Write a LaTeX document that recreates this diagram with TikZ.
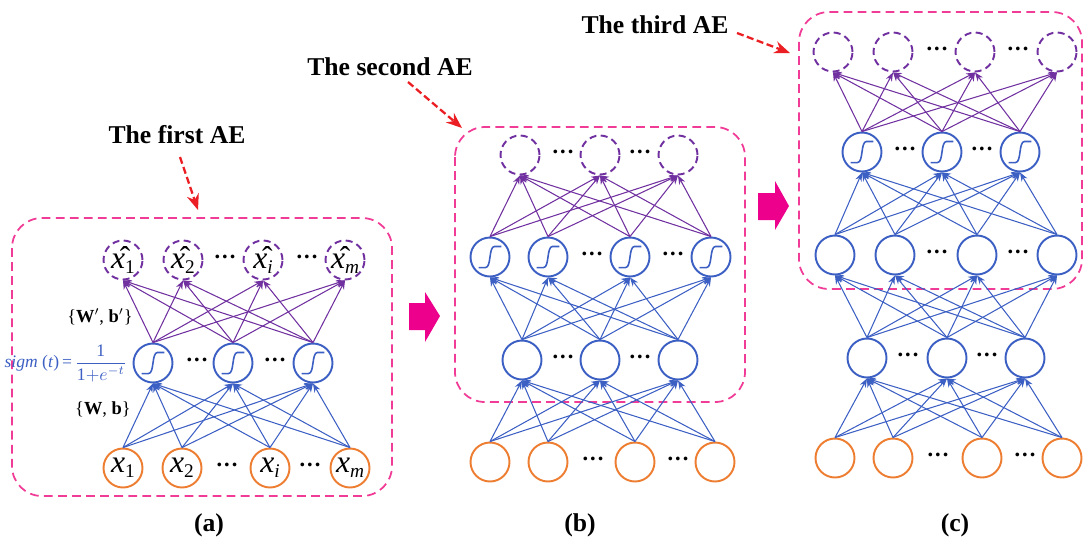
\documentclass[tikz,border=0pt]{standalone}
\usepackage{fontspec}
\setmainfont{Liberation Serif}
\usetikzlibrary{arrows.meta}
\definecolor{aeblue}{RGB}{60,95,195}
\definecolor{aepurple}{RGB}{112,48,160}
\definecolor{aeorange}{RGB}{237,125,49}
\definecolor{aepink}{RGB}{240,60,150}
\definecolor{aered}{RGB}{235,30,35}
\definecolor{aemagenta}{RGB}{236,0,140}
\newcommand{\aesub}[1]{\raisebox{-0.35ex}{\fontsize{11}{11}\selectfont #1}}
\newcommand{\xin}[1]{\textit{x}\aesub{#1}}
\newcommand{\xout}[1]{\^{\textit{x}}\aesub{#1}}
\tikzset{
 unit/.style={circle,line width=1.1pt,minimum size=0.78cm,inner sep=0pt},
 inp/.style={unit,draw=aeorange},
 hid/.style={unit,draw=aeblue},
 sig/.style={hid,path picture={\begin{scope}[shift={(path picture bounding box.center)}]
   \draw[aeblue,line width=0.9pt] (-6.5pt,-6pt)--(-2.5pt,-6pt) .. controls (0.8pt,-6pt) and (-0.8pt,6pt) .. (2.5pt,6pt)--(6.5pt,6pt);
   \end{scope}}},
 outp/.style={unit,draw=aepurple,dash pattern=on 4pt off 2.5pt},
 lbl/.style={font=\fontsize{18}{18}\selectfont},
 dots/.style={font=\fontsize{13}{13}\selectfont\bfseries},
 wblue/.style={aeblue,line width=0.6pt,->},
 wpurple/.style={aepurple,line width=0.6pt,->},
 aebox/.style={aepink,line width=1pt,dash pattern=on 5pt off 3pt,rounded corners=0.6cm},
 redarr/.style={aered,line width=1.3pt,dash pattern=on 4pt off 2pt,-{Stealth[length=9pt,width=7pt]}},
 title/.style={font=\fontsize{14.6}{15}\selectfont\bfseries},
 >={Stealth[length=5pt,width=3.8pt]}
}
\begin{document}
\begin{tikzpicture}[x=0.02cm,y=-0.02cm]
 \useasboundingbox (0,0) rectangle (1086,539);
 % (a) the first AE
 \draw[aebox] (12,218) rectangle (392,496);
 \node[inp,label={[lbl]center:\xin{1}}] (ain1) at (123,468) {};
 \node[inp,label={[lbl]center:\xin{2}}] (ain2) at (182,468) {};
 \node[inp,label={[lbl]center:\xin{\textit{i}}}] (ain3) at (270,468) {};
 \node[inp,label={[lbl]center:\xin{\textit{m}}}] (ain4) at (350,468) {};
 \node[dots] at (227,468) {···};
 \node[dots] at (310,468) {···};
 \node[sig] (ahid1) at (153,363) {};
 \node[sig] (ahid2) at (233,363) {};
 \node[sig] (ahid3) at (313,363) {};
 \node[dots] at (197,363) {···};
 \node[dots] at (275,363) {···};
 \node[outp,label={[lbl]center:\xout{1}}] (aout1) at (123,260) {};
 \node[outp,label={[lbl]center:\xout{2}}] (aout2) at (183,260) {};
 \node[outp,label={[lbl]center:\xout{\textit{i}}}] (aout3) at (263,260) {};
 \node[outp,label={[lbl]center:\xout{\textit{m}}}] (aout4) at (345,260) {};
 \node[dots] at (225,260) {···};
 \node[dots] at (307,260) {···};
 \foreach \s in {1,...,4} \foreach \t in {1,2,3} \draw[wblue] (ain\s.north) -- (ahid\t.south);
 \foreach \s in {1,2,3} \foreach \t in {1,...,4} \draw[wpurple] (ahid\s.north) -- (aout\t.south);
 \node[font=\fontsize{10.5}{11}\selectfont] (wdec) at (100,317) {\{\textbf{W}$'$, \textbf{b}$'$\}};
 \node[font=\fontsize{10.5}{11}\selectfont] (wenc) at (103,410) {\{\textbf{W}, \textbf{b}\}};
 \node[aeblue,anchor=east,inner sep=1pt,font=\fontsize{10}{11}\selectfont] (sigm) at (129,363) {\textit{sigm} (\textit{t})\,=\,$\displaystyle\frac{\textrm{1}}{\textrm{1}{+}e^{-t}}$};
 \node[title] (t1) at (177,135) {The first AE};
 \coordinate (t1a) at (180,157); \coordinate (t1b) at (198,210);
 \draw[redarr] (t1a) -- (t1b);
 \node[title] (pa) at (209,525) {(a)};
 \fill[aemagenta] (409,303)--(425,303)--(425,292)--(440,316)--(425,342)--(425,330)--(409,330)--cycle; % arrow a->b
 % (b) the second AE
 \draw[aebox] (455,127) rectangle (745,402);
 \node[inp] (bin1) at (490,462) {};
 \node[inp] (bin2) at (548,462) {};
 \node[inp] (bin3) at (635,462) {};
 \node[inp] (bin4) at (715,462) {};
 \node[dots] at (593,462) {···};
 \node[dots] at (678,462) {···};
 \node[hid] (bhid1) at (522,360) {};
 \node[hid] (bhid2) at (600,360) {};
 \node[hid] (bhid3) at (678,360) {};
 \node[dots] at (563,360) {···};
 \node[dots] at (640,360) {···};
 \node[sig] (bsig1) at (490,257) {};
 \node[sig] (bsig2) at (548,257) {};
 \node[sig] (bsig3) at (630,257) {};
 \node[sig] (bsig4) at (711,257) {};
 \node[dots] at (592,257) {···};
 \node[dots] at (673,257) {···};
 \node[outp] (bout1) at (520,155) {};
 \node[outp] (bout2) at (600,155) {};
 \node[outp] (bout3) at (678,155) {};
 \node[dots] at (563,155) {···};
 \node[dots] at (640,155) {···};
 \foreach \s in {1,...,4} \foreach \t in {1,2,3} \draw[wblue] (bin\s.north) -- (bhid\t.south);
 \foreach \s in {1,2,3} \foreach \t in {1,...,4} \draw[wblue] (bhid\s.north) -- (bsig\t.south);
 \foreach \s in {1,...,4} \foreach \t in {1,2,3} \draw[wpurple] (bsig\s.north) -- (bout\t.south);
 \node[title] (t2) at (390,67) {The second AE};
 \coordinate (t2a) at (408,82); \coordinate (t2b) at (462,128);
 \draw[redarr] (t2a) -- (t2b);
 \node[title] (pb) at (580,525) {(b)};
 \fill[aemagenta] (758,193)--(775,193)--(775,181)--(789,206)--(775,230)--(775,220)--(758,220)--cycle; % arrow b->c
 % (c) the third AE
 \draw[aebox] (799,12) rectangle (1082,289);
 \node[inp] (cin1) at (835,458) {};
 \node[inp] (cin2) at (893,458) {};
 \node[inp] (cin3) at (982,458) {};
 \node[inp] (cin4) at (1062,458) {};
 \node[dots] at (938,458) {···};
 \node[dots] at (1025,458) {···};
 \node[hid] (chid1) at (867,358) {};
 \node[hid] (chid2) at (947,358) {};
 \node[hid] (chid3) at (1025,358) {};
 \node[dots] at (908,358) {···};
 \node[dots] at (987,358) {···};
 \node[hid] (cmid1) at (835,255) {};
 \node[hid] (cmid2) at (895,255) {};
 \node[hid] (cmid3) at (977,255) {};
 \node[hid] (cmid4) at (1057,255) {};
 \node[dots] at (937,255) {···};
 \node[dots] at (1018,255) {···};
 \node[sig] (csig1) at (862,152) {};
 \node[sig] (csig2) at (942,152) {};
 \node[sig] (csig3) at (1020,152) {};
 \node[dots] at (905,152) {···};
 \node[dots] at (982,152) {···};
 \node[outp] (cout1) at (833,52) {};
 \node[outp] (cout2) at (893,52) {};
 \node[outp] (cout3) at (975,52) {};
 \node[outp] (cout4) at (1057,52) {};
 \node[dots] at (937,52) {···};
 \node[dots] at (1018,52) {···};
 \foreach \s in {1,...,4} \foreach \t in {1,2,3} \draw[wblue] (cin\s.north) -- (chid\t.south);
 \foreach \s in {1,2,3} \foreach \t in {1,...,4} \draw[wblue] (chid\s.north) -- (cmid\t.south);
 \foreach \s in {1,...,4} \foreach \t in {1,2,3} \draw[wblue] (cmid\s.north) -- (csig\t.south);
 \foreach \s in {1,2,3} \foreach \t in {1,...,4} \draw[wpurple] (csig\s.north) -- (cout\t.south);
 \node[title] (t3) at (655,25) {The third AE};
 \coordinate (t3a) at (737,33); \coordinate (t3b) at (790,53);
 \draw[redarr] (t3a) -- (t3b);
 \node[title] (pc) at (955,525) {(c)};
\end{tikzpicture}
\end{document}
